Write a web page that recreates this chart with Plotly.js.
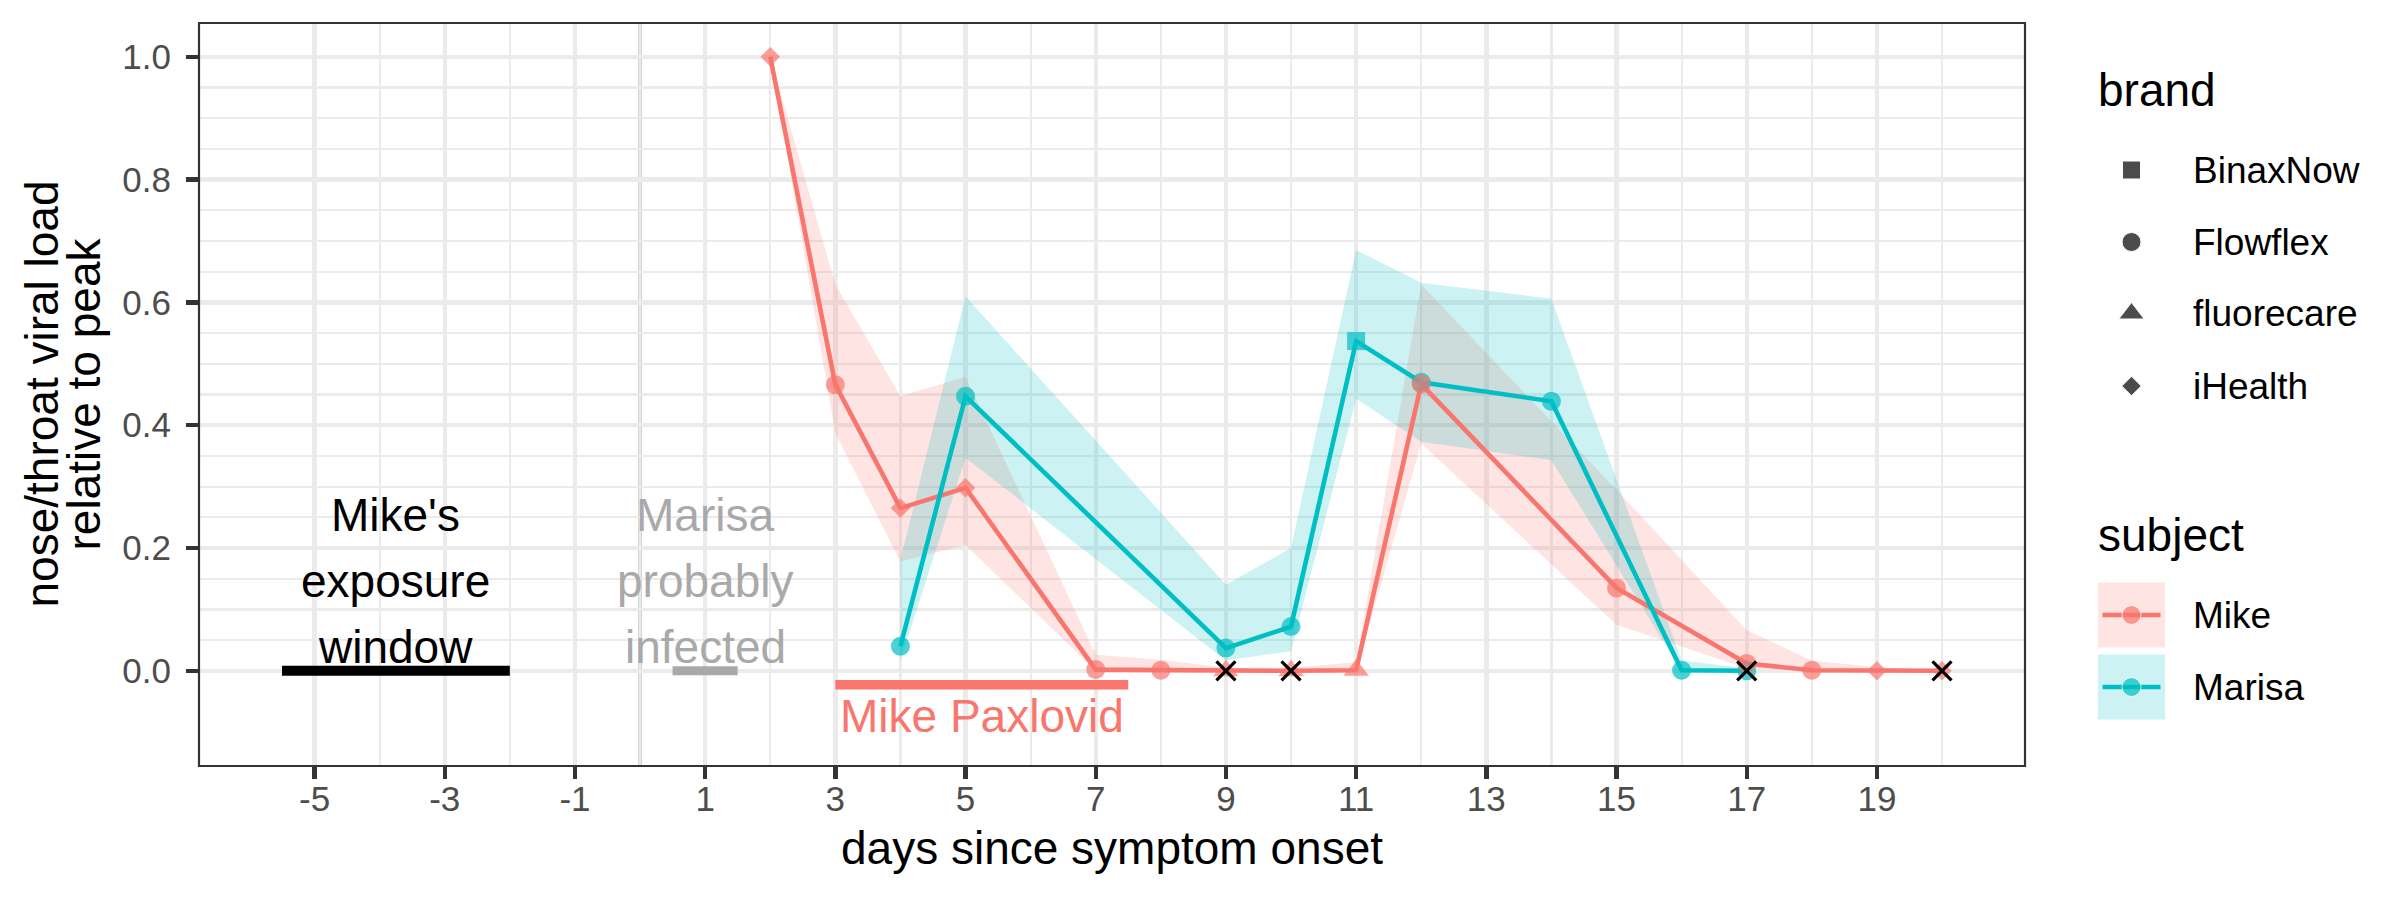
<!DOCTYPE html>
<html>
<head>
<meta charset="utf-8">
<script src="https://cdn.plot.ly/plotly-3.0.1.min.js"></script>
<style>
  html, body { margin: 0; padding: 0; background: #ffffff; }
  #chart { width: 2400px; height: 900px; }
</style>
</head>
<body>
<div id="chart"></div>
<script>
// ---- Mike: home antigen tests, viral load relative to peak ----
const mikeDays  = [2, 3, 4, 5, 7, 8, 9, 10, 11, 12, 15, 17, 18, 19, 20];
const mikeLoad  = [1.0, 0.466, 0.265, 0.298, 0.002, 0.001, 0, 0, 0.001, 0.467, 0.135, 0.012, 0.001, 0, 0];
const mikeLow   = [1.0, 0.387, 0.178, 0.205, 0, 0, 0, 0, 0, 0.37, 0.075, 0.004, 0, 0, 0];
const mikeHigh  = [1.0, 0.629, 0.447, 0.479, 0.026, 0.018, 0.005, 0.005, 0.014, 0.629, 0.295, 0.066, 0.017, 0.006, 0.001];
const mikeBrand = ['iHealth', 'Flowflex', 'iHealth', 'iHealth', 'Flowflex', 'Flowflex', 'fluorecare', 'fluorecare',
                   'fluorecare', 'Flowflex', 'Flowflex', 'Flowflex', 'Flowflex', 'iHealth', 'iHealth'];

// ---- Marisa ----
const marisaDays  = [4, 5, 9, 10, 11, 12, 14, 16, 17];
const marisaLoad  = [0.040, 0.447, 0.037, 0.072, 0.537, 0.470, 0.439, 0.001, 0];
const marisaLow   = [0.017, 0.347, 0.017, 0.032, 0.443, 0.373, 0.343, 0, 0];
const marisaHigh  = [0.18, 0.61, 0.14, 0.20, 0.685, 0.632, 0.606, 0.017, 0.004];
const marisaBrand = ['Flowflex', 'Flowflex', 'Flowflex', 'Flowflex', 'BinaxNow', 'Flowflex', 'Flowflex', 'Flowflex', 'Flowflex'];

// negative tests, marked with a cross
const negativeDays = [9, 10, 17, 20];
const negativeLoad = [0, 0, 0, 0];

// time windows (days since symptom onset)
const exposureWindow = [-5.5, -2];
const infectedWindow = [0.5, 1.5];
const paxlovidWindow = [3, 7.5];
const paxlovidLevel  = -0.0227;

// axis ticks
const xTickVals  = [-5, -3, -1, 1, 3, 5, 7, 9, 11, 13, 15, 17, 19];
const xTickText  = ['-5', '-3', '-1', '1', '3', '5', '7', '9', '11', '13', '15', '17', '19'];
const xMinorVals = [-4, -2, 0, 2, 4, 6, 8, 10, 12, 14, 16, 18, 20];
const yTickVals  = [0, 0.2, 0.4, 0.6, 0.8, 1.0];
const yTickText  = ['0.0', '0.2', '0.4', '0.6', '0.8', '1.0'];
const yMinorVals = [0.05, 0.1, 0.15, 0.25, 0.3, 0.35, 0.45, 0.5, 0.55, 0.65, 0.7, 0.75, 0.85, 0.9, 0.95];

const brandNames   = ['BinaxNow', 'Flowflex', 'fluorecare', 'iHealth'];
const subjectNames = ['Mike', 'Marisa'];

// ---- styling ----
const FONT = 'Liberation Sans, Arial, Helvetica, sans-serif';
const RED = '#F8766D', TEAL = '#00BFC4';
const RED_FILL = 'rgba(248,118,109,0.2)', TEAL_FILL = 'rgba(0,191,196,0.2)';
const GRID = '#EBEBEB';
const brandSymbol = { BinaxNow: 'square', Flowflex: 'circle', fluorecare: 'triangle-up', iHealth: 'diamond' };
const brandSize   = { BinaxNow: 18, Flowflex: 19, fluorecare: 22, iHealth: 15 };

const W = 2400, H = 900;
const margin = { l: 199, r: 0, t: 23, b: 134 };
const panelRight = 2025;
const split = (panelRight - margin.l) / (W - margin.l - margin.r);

function ribbon(days, low, high, fill) {
  return {
    x: days.concat(days.slice().reverse()),
    y: high.concat(low.slice().reverse()),
    type: 'scatter', mode: 'lines', fill: 'toself', fillcolor: fill,
    line: { width: 0 }, hoverinfo: 'skip', showlegend: false
  };
}
function bar(win, level, color, width) {
  return {
    x: win, y: [level, level], type: 'scatter', mode: 'lines',
    line: { color: color, width: width }, hoverinfo: 'skip', showlegend: false
  };
}
function series(days, load, color) {
  return {
    x: days, y: load, type: 'scatter', mode: 'lines',
    line: { color: color, width: 4.6 }, hoverinfo: 'skip', showlegend: false
  };
}
function points(days, load, brands, color) {
  return {
    x: days, y: load, type: 'scatter', mode: 'markers',
    marker: {
      color: color,
      symbol: brands.map(b => brandSymbol[b]),
      size: brands.map(b => brandSize[b]),
      line: { width: 0 }
    },
    hoverinfo: 'skip', showlegend: false
  };
}

const traces = [
  ribbon(mikeDays, mikeLow, mikeHigh, RED_FILL),
  ribbon(marisaDays, marisaLow, marisaHigh, TEAL_FILL),
  bar(exposureWindow, 0, '#000000', 10),
  bar(infectedWindow, 0, '#A9A9A9', 9),
  bar(paxlovidWindow, paxlovidLevel, RED, 9.5),
  series(mikeDays, mikeLoad, RED),
  series(marisaDays, marisaLoad, TEAL),
  points(marisaDays, marisaLoad, marisaBrand, TEAL),
  points(mikeDays, mikeLoad, mikeBrand, RED),
  {
    x: negativeDays, y: negativeLoad, type: 'scatter', mode: 'markers',
    marker: { symbol: 'x-thin', size: 19, color: '#000000', line: { width: 3.2, color: '#000000' } },
    hoverinfo: 'skip', showlegend: false
  }
];

// ---- legend, drawn in its own pixel-scaled panel to the right ----
const legend = {
  left: 2096, keyX: 2131.5, labelX: 2191,
  brandTitleY: 89.5, brandY: [170, 242, 313.5, 386],
  subjectTitleY: 535, subjectY: [615, 687],
  keyHalf: 33.5, keyHalfH: 32.5, lineHalf: 29
};

traces.push({
  x: brandNames.map(() => legend.keyX), y: legend.brandY,
  xaxis: 'x2', yaxis: 'y2', type: 'scatter', mode: 'markers',
  marker: { color: '#000000', symbol: brandNames.map(b => brandSymbol[b]), size: brandNames.map(b => brandSize[b]) },
  hoverinfo: 'skip', showlegend: false
});
const subjectColors = [RED, TEAL];
subjectNames.forEach((s, i) => {
  traces.push({
    x: [legend.keyX - legend.lineHalf, legend.keyX, legend.keyX + legend.lineHalf],
    y: [legend.subjectY[i], legend.subjectY[i], legend.subjectY[i]],
    xaxis: 'x2', yaxis: 'y2', type: 'scatter', mode: 'lines+markers',
    line: { color: subjectColors[i], width: 4.6 },
    marker: { color: subjectColors[i], size: [0, 19, 0] },
    hoverinfo: 'skip', showlegend: false
  });
});

const shapes = [
  // symptom onset
  { type: 'line', xref: 'x', yref: 'paper', x0: 0, x1: 0, y0: 0, y1: 1,
    line: { color: '#D3D3D3', width: 4 }, layer: 'between' },
  // panel border
  { type: 'rect', xref: 'paper', yref: 'paper', x0: 0, x1: split, y0: 0, y1: 1,
    line: { color: '#333333', width: 2.2 }, fillcolor: 'rgba(0,0,0,0)', layer: 'above' }
];
[RED_FILL, TEAL_FILL].forEach((fill, i) => {
  shapes.push({
    type: 'rect', xref: 'x2', yref: 'y2',
    x0: legend.keyX - legend.keyHalf, x1: legend.keyX + legend.keyHalf,
    y0: legend.subjectY[i] - legend.keyHalfH, y1: legend.subjectY[i] + legend.keyHalfH,
    fillcolor: fill, line: { width: 0 }, layer: 'below'
  });
});

function note(text, x, y, color, size, extra) {
  return Object.assign({
    text: text, x: x, y: y, xref: 'x', yref: 'y', showarrow: false,
    xanchor: 'center', yanchor: 'middle', font: { family: FONT, size: size, color: color }
  }, extra || {});
}

const annotations = [
  note("Mike's", -3.75, 0.254, '#000000', 46),
  note('exposure', -3.75, 0.146, '#000000', 46),
  note('window', -3.75, 0.039, '#000000', 46),
  note('Marisa', 1, 0.254, '#A9A9A9', 46),
  note('probably', 1, 0.146, '#A9A9A9', 46),
  note('infected', 1, 0.039, '#A9A9A9', 46),
  note('Mike Paxlovid', 5.25, -0.074, RED, 46),
  // y-axis title, two lines
  { text: 'nose/throat viral load', xref: 'paper', yref: 'paper', x: 0, y: 0.5, xshift: -(margin.l - 41),
    textangle: -90, showarrow: false, xanchor: 'center', yanchor: 'middle',
    font: { family: FONT, size: 46, color: '#000000' } },
  { text: 'relative to peak', xref: 'paper', yref: 'paper', x: 0, y: 0.5, xshift: -(margin.l - 83),
    textangle: -90, showarrow: false, xanchor: 'center', yanchor: 'middle',
    font: { family: FONT, size: 46, color: '#000000' } },
  // legend text
  { text: 'brand', xref: 'x2', yref: 'y2', x: legend.left, y: legend.brandTitleY, showarrow: false,
    xanchor: 'left', yanchor: 'middle', font: { family: FONT, size: 46, color: '#000000' } },
  { text: 'subject', xref: 'x2', yref: 'y2', x: legend.left, y: legend.subjectTitleY, showarrow: false,
    xanchor: 'left', yanchor: 'middle', font: { family: FONT, size: 46, color: '#000000' } }
];
brandNames.forEach((b, i) => annotations.push({
  text: b, xref: 'x2', yref: 'y2', x: legend.labelX, y: legend.brandY[i], showarrow: false,
  xanchor: 'left', yanchor: 'middle', font: { family: FONT, size: 37, color: '#000000' }
}));
subjectNames.forEach((s, i) => annotations.push({
  text: s, xref: 'x2', yref: 'y2', x: legend.labelX, y: legend.subjectY[i], showarrow: false,
  xanchor: 'left', yanchor: 'middle', font: { family: FONT, size: 37, color: '#000000' }
}));

const layout = {
  width: W, height: H, margin: margin,
  paper_bgcolor: '#ffffff', plot_bgcolor: '#ffffff',
  showlegend: false,
  font: { family: FONT },
  xaxis: {
    domain: [0, split], range: [-6.775, 21.275], anchor: 'y',
    tickmode: 'array', tickvals: xTickVals, ticktext: xTickText,
    ticks: 'outside', ticklen: 12, tickwidth: 4.4, tickcolor: '#333333',
    ticklabelstandoff: -10,
    tickfont: { family: FONT, size: 35, color: '#4D4D4D' },
    showgrid: true, gridcolor: GRID, gridwidth: 4.4, zeroline: false, showline: false,
    minor: { tickmode: 'array', tickvals: xMinorVals, showgrid: true, gridcolor: GRID, gridwidth: 2.2, ticks: '' },
    title: { text: 'days since symptom onset', font: { family: FONT, size: 46, color: '#000000' }, standoff: 14 }
  },
  yaxis: {
    domain: [0, 1], range: [-0.155, 1.055], anchor: 'x',
    tickmode: 'array', tickvals: yTickVals, ticktext: yTickText,
    ticks: 'outside', ticklen: 12, tickwidth: 4.4, tickcolor: '#333333',
    ticklabelstandoff: 8,
    tickfont: { family: FONT, size: 35, color: '#4D4D4D' },
    showgrid: true, gridcolor: GRID, gridwidth: 4.4, zeroline: false, showline: false,
    minor: { tickmode: 'array', tickvals: yMinorVals, showgrid: true, gridcolor: GRID, gridwidth: 2.2, ticks: '' }
  },
  xaxis2: { domain: [split, 1], range: [panelRight, W], anchor: 'y2', visible: false, fixedrange: true },
  yaxis2: { domain: [0, 1], range: [H - margin.b, margin.t], anchor: 'x2', visible: false, fixedrange: true },
  shapes: shapes,
  annotations: annotations
};

Plotly.newPlot('chart', traces, layout, { displayModeBar: false, staticPlot: true });
</script>
</body>
</html>
